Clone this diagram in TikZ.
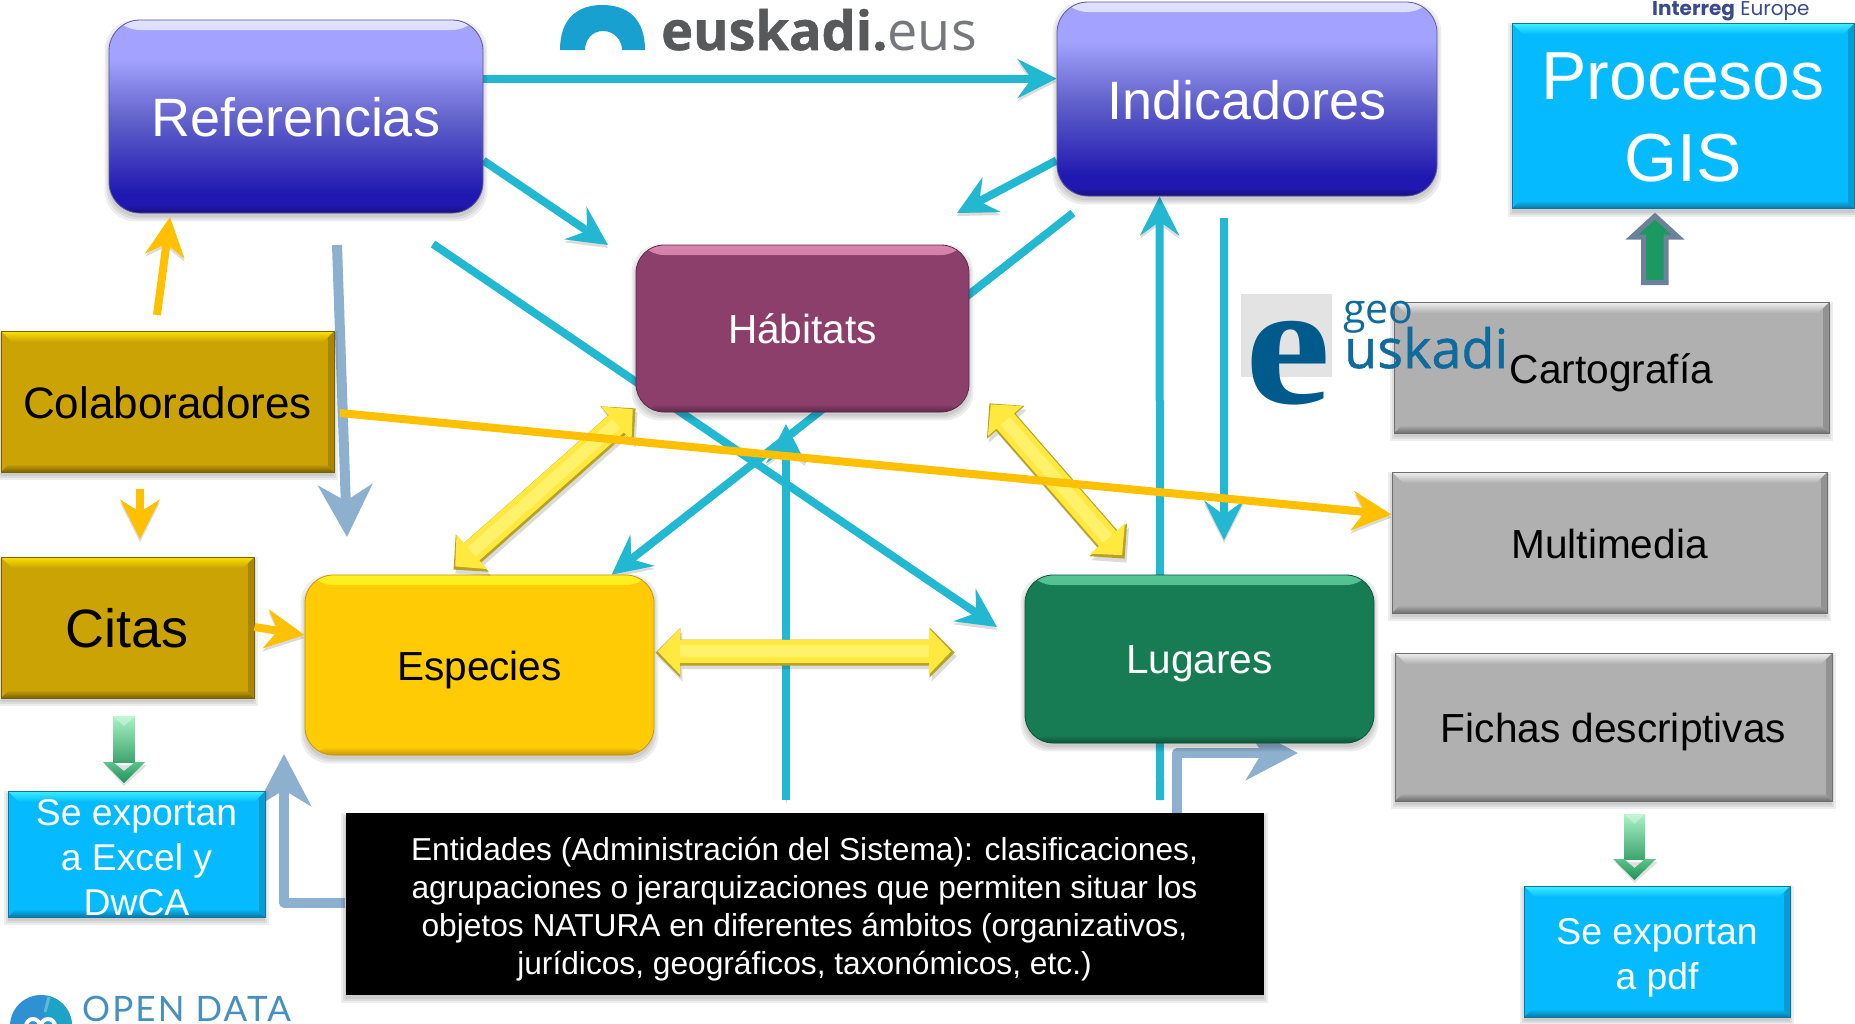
\documentclass[tikz,border=0pt]{standalone}
\usepackage{fontspec}
\setmainfont{Liberation Sans}
\newfontfamily\opensans{Open Sans}
\newfontfamily\lato{Lato}
\newfontfamily\poppins{Poppins}
\newfontfamily\libserif{Liberation Serif}
\usetikzlibrary{arrows.meta,calc}
\pgfdeclarelayer{lines}
\pgfdeclarelayer{shadow}
\pgfdeclarelayer{top}
\pgfsetlayers{lines,shadow,main,top}
\definecolor{cyanl}{HTML}{22B8D2}
\definecolor{steel}{HTML}{8EB0CF}
\definecolor{amber}{HTML}{FFC000}
\definecolor{violetT}{HTML}{A3A3FF}
\definecolor{violetW}{HTML}{E0E0FF}
\definecolor{violetM}{HTML}{6464CC}
\definecolor{violetB}{HTML}{2018B0}
\definecolor{violetD}{HTML}{181078}
\definecolor{plum}{HTML}{8C3F6B}
\definecolor{plumL}{HTML}{D885AE}
\definecolor{plumD}{HTML}{5E284A}
\definecolor{gold}{HTML}{FFCB05}
\definecolor{goldL}{HTML}{FFF020}
\definecolor{goldD}{HTML}{C8960A}
\definecolor{forest}{HTML}{177C54}
\definecolor{forestL}{HTML}{55C495}
\definecolor{forestD}{HTML}{0F5238}
\definecolor{ochre}{HTML}{CBA305}
\definecolor{ochreL}{HTML}{FCE200}
\definecolor{ochreD}{HTML}{7A6200}
\definecolor{sky}{HTML}{06BAFF}
\definecolor{skyL}{HTML}{3CF0FF}
\definecolor{skyD}{HTML}{0A78A0}
\definecolor{grayb}{HTML}{B0B0B0}
\definecolor{grayL}{HTML}{F0F0F0}
\definecolor{grayD}{HTML}{6E6E6E}
\definecolor{ygD}{HTML}{B8A224}
\definecolor{ygM}{HTML}{FFE93F}
\definecolor{ygL}{HTML}{FFF26A}
\definecolor{geoB}{HTML}{005A8C}
\definecolor{geoT}{HTML}{0F6A9E}
\definecolor{geoG}{HTML}{E3E3E3}
\definecolor{eusG}{HTML}{58595B}
\definecolor{eusF}{HTML}{77787B}
\definecolor{eusL}{HTML}{18A0D0}
\definecolor{intB}{HTML}{3B4A8A}
\definecolor{odB}{HTML}{4690C0}
\definecolor{odC}{HTML}{2F90D4}
\definecolor{odT}{HTML}{1CA3C6}
\definecolor{odL}{HTML}{5CBCD2}
\definecolor{upG}{HTML}{1A9A60}
\definecolor{upE}{HTML}{6D819B}
\definecolor{grT}{HTML}{AAF2C6}
\definecolor{grM}{HTML}{3FA56E}
\definecolor{grH}{HTML}{5CC48A}
\definecolor{grB}{HTML}{1F8F58}
\pgfdeclareverticalshading{violetgrad}{100bp}{color(0bp)=(violetB);color(30bp)=(violetB);color(50bp)=(violetM);color(65bp)=(violetT);color(100bp)=(violetT)}
\newcommand{\dn}[2]{\raisebox{-#1pt}[\height][\depth]{#2}}
\newcommand{\lns}[2]{\dn{#1}{\begin{tabular}{@{}c@{}}#2\end{tabular}}}
\newcommand{\lnz}[2]{\raisebox{-#1pt}[0pt][0pt]{\begin{tabular}{@{}c@{}}#2\end{tabular}}}
\tikzset{
  rbev/.style n args={4}{path picture={
    \shade[top color=#1,bottom color=#2] (path picture bounding box.north west) rectangle ([yshift=-10pt]path picture bounding box.north east);
    \shade[top color=#3,bottom color=#4] ([yshift=8pt]path picture bounding box.south west) rectangle (path picture bounding box.south east);
  }},
  sbev/.style n args={3}{path picture={
    \fill[#3!45!#2] (path picture bounding box.north east) -- (path picture bounding box.south east) -- ++(-6pt,6pt) -- ([shift={(-6pt,-6pt)}]path picture bounding box.north east) -- cycle;
    \shade[top color=#1,bottom color=#2] (path picture bounding box.north west) -- (path picture bounding box.north east) -- ([shift={(-11pt,-11pt)}]path picture bounding box.north east) -- ([shift={(11pt,-11pt)}]path picture bounding box.north west) -- cycle;
    \shade[top color=#2,bottom color=#3] (path picture bounding box.south west) -- (path picture bounding box.south east) -- ([shift={(-8pt,8pt)}]path picture bounding box.south east) -- ([shift={(8pt,8pt)}]path picture bounding box.south west) -- cycle;
  }},
  box/.style={inner sep=0pt,align=center,text=black},
  violetbox/.style={box,rounded corners=31pt,shading=violetgrad,draw=violetD!70!white,line width=.8pt,text=white,font=\fontsize{54}{60}\selectfont,rbev={violetW}{violetT}{violetB}{violetD}},
  plumbox/.style={box,rounded corners=28pt,fill=plum,draw=plumD,line width=.8pt,text=white,font=\fontsize{40.6}{48}\selectfont,rbev={plumL}{plum}{plum}{plumD}},
  goldbox/.style={box,rounded corners=28pt,fill=gold,draw=goldD,line width=.8pt,font=\fontsize{40.6}{48}\selectfont,rbev={goldL}{gold}{gold}{goldD}},
  forestbox/.style={box,rounded corners=28pt,fill=forest,draw=forestD,line width=.8pt,text=white,font=\fontsize{40.6}{48}\selectfont,rbev={forestL}{forest}{forest}{forestD}},
  ochrebox/.style={box,fill=ochre,draw=ochreD,line width=.8pt,sbev={ochreL}{ochre}{ochreD}},
  skybox/.style={box,fill=sky,draw=skyD,line width=.8pt,text=white,sbev={skyL}{sky}{skyD}},
  graybox/.style={box,fill=grayb,draw=grayD,line width=.8pt,font=\fontsize{40.6}{48}\selectfont,sbev={grayL}{grayb}{grayD}},
  cast/.style={preaction={draw=black,opacity=.14,transform canvas={yshift=-3pt}}},
  cyanarrow/.style={cast,draw=cyanl,line width=8pt,-{Stealth[length=39pt,width=39pt,inset=14pt]}},
  steelarrow/.style={draw=steel,line width=10pt,line join=round,-{Stealth[length=52pt,width=54pt,inset=16pt]}},
  amberarrow/.style={cast,draw=amber,line width=8pt,-{Stealth[length=39pt,width=39pt,inset=12pt]}},
  logotext/.style={inner sep=0pt,anchor=base west},
}
% yellow bevelled double arrow between two named coordinates
\newcommand{\yshape}[3]{(#3,0) -- (25,{-(#2)}) -- (25,{-(#1)}) -- ({\ylen-25},{-(#1)}) -- ({\ylen-25},{-(#2)}) -- ({\ylen-#3},0) -- ({\ylen-25},#2) -- ({\ylen-25},#1) -- (25,#1) -- (25,#2) -- cycle}
\newcommand{\yellowarrow}[2]{%
  \path let \p1=(#1),\p2=(#2),\n1={atan2(\y2-\y1,\x2-\x1)},\n2={veclen(\x2-\x1,\y2-\y1)} in \pgfextra{\xdef\yang{\n1}\xdef\ylen{\n2}};
  \begin{scope}[shift={(#1)},shift={(2,4)},rotate=\yang]
    \fill[black,opacity=.14] \yshape{12.5}{25}{0};
  \end{scope}
  \begin{scope}[shift={(#1)},rotate=\yang]
    \fill[ygD] \yshape{13}{25}{0};
  \end{scope}
  \begin{scope}[shift={(#1)},shift={(-.6,-1.2)},rotate=\yang]
    \fill[ygM] \yshape{11.5}{23}{3};
    \fill[ygL] (25,-6) rectangle ({\ylen-25},6);
  \end{scope}}
% bevelled green block arrow pointing down: x, top, head base, tip, shaft half, head half
\newcommand{\greendown}[6]{%
  \fill[black,opacity=.12] ({#1-#6+2},{#3+3}) -- ({#1},{#4+3}) -- ({#1+#6+2},{#3+3}) -- cycle;
  \shade[top color=grT,bottom color=grM] ({#1-#5},#2) rectangle ({#1+#5},#3);
  \fill[white,opacity=.3] ({#1-#5},#2) -- ({#1+#5},#2) -- ({#1},{#2+10}) -- cycle;
  \shade[top color=grH,bottom color=grB] ({#1-#6},#3) -- ({#1-#5},#3) -- ({#1},{#3+9}) -- ({#1+#5},#3) -- ({#1+#6},#3) -- ({#1},#4) -- cycle;
}
\begin{document}
\begin{tikzpicture}[x=1pt,y=-1pt]
\useasboundingbox (0,0) rectangle (1855,1023);
\clip (0,0) rectangle (1855,1023);

% boxes
\node[violetbox,minimum width=374pt,minimum height=193pt] (ref) at (296,116.5) {\dn{1}{Referencias}};
\node[violetbox,minimum width=380pt,minimum height=194pt] (ind) at (1247,99) {\dn{1}{Indicadores}};
\node[plumbox,minimum width=333pt,minimum height=167pt] (hab) at (802.5,328.5) {Hábitats};
\node[goldbox,minimum width=349pt,minimum height=180pt] (esp) at (479.5,665) {\dn{5}{Especies}};
\node[forestbox,minimum width=349pt,minimum height=168pt] (lug) at (1199.5,659) {\dn{5}{Lugares}};
\node[ochrebox,minimum width=333pt,minimum height=141pt,font=\fontsize{44}{50}\selectfont] (col) at (167.5,401.5) {\dn{1}{Colaboradores}};
\node[ochrebox,minimum width=253pt,minimum height=141pt,font=\fontsize{54}{60}\selectfont] (cit) at (127.5,627.5) {\dn{1}{Citas}};
\node[skybox,minimum width=257pt,minimum height=126pt,font=\fontsize{37.3}{45}\selectfont] (exc) at (136.5,854) {\lnz{14}{Se exportan\\a Excel y\\DwCA}};
\node[skybox,minimum width=342pt,minimum height=185pt,font=\fontsize{68}{82}\selectfont] (pro) at (1683,116) {\lns{8}{Procesos\\GIS}};
\node[graybox,minimum width=435pt,minimum height=131pt] (car) at (1611.5,367.5) {\dn{5}{Cartografía}};
\node[graybox,minimum width=435pt,minimum height=141pt] (mul) at (1609.5,542.5) {\dn{1}{Multimedia}};
\node[graybox,minimum width=437pt,minimum height=148pt] (fic) at (1613.5,727) {\dn{5}{Fichas descriptivas}};
\node[skybox,minimum width=266pt,minimum height=131pt,font=\fontsize{37.3}{45}\selectfont] (pdf) at (1657,951.5) {\lns{6}{Se exportan\\a pdf}};
\node[box,fill=black,text=white,minimum width=918pt,minimum height=182pt,font=\fontsize{31.7}{38}\selectfont] (blk) at (804.5,904) {\lns{6}{Entidades (Administración del Sistema): clasificaciones,\\agrupaciones o jerarquizaciones que permiten situar los\\objetos NATURA en diferentes ámbitos (organizativos,\\jurídicos, geográficos, taxonómicos, etc.)}};

% box shadows
\begin{pgfonlayer}{shadow}
\foreach \n/\r in {ref/31,ind/31,hab/28,esp/28,lug/28,col/0,cit/0,exc/0,pro/0,car/0,mul/0,fic/0,pdf/0,blk/0}{
  \foreach \k in {0,2,4}{
    \fill[black,opacity=.07,rounded corners=\r pt] ([shift={({-\k*1pt},{\k*1pt-4pt})}]\n.north west) rectangle ([shift={({\k*1pt},{-\k*1pt-4pt})}]\n.south east);
  }
}
\end{pgfonlayer}

% free ends
\coordinate (c1) at (957,213);
\coordinate (c2) at (1073,213);
\coordinate (c3) at (433,244);
\coordinate (c4) at (997,627);
\coordinate (c5) at (786,800);
\coordinate (c6) at (786,424);
\coordinate (c7) at (1160,800);
\coordinate (c8) at (1224,218);
\coordinate (c9) at (1224,540);
\coordinate (c10) at (337,245);
\coordinate (c11) at (347,537);
\coordinate (c12) at (284,754);
\coordinate (c13) at (1298,753);
\coordinate (c14) at (157,315);
\coordinate (c15) at (170,217);
\coordinate (c16) at (140,489);
\coordinate (c17) at (140,539);
\coordinate (c18) at (340,413);
\coordinate (c19) at (608,245);

% connectors behind the boxes
\begin{pgfonlayer}{lines}
\draw[cyanarrow] ([yshift=-59pt]ref.north east) -- ([yshift=-77pt]ind.north west);
\draw[cyanarrow] ([yshift=-141pt]ref.north east) -- (c19);
\draw[cyanarrow] ([yshift=36pt]ind.south west) -- (c1);
\draw[cyanarrow] (c2) -- ([xshift=307pt]esp.north west);
\draw[cyanarrow] (c3) -- (c4);
\draw[cyanarrow] (c5) -- (c6);
\draw[cyanarrow] (c7) -- ([xshift=103pt]ind.south west);
\draw[cyanarrow] (c8) -- (c9);
\draw[steelarrow] (c10) -- (c11);
\draw[steelarrow] ([yshift=-90pt]blk.north west) -| (c12);
\draw[steelarrow] ([xshift=832pt]blk.north west) |- (c13);
\end{pgfonlayer}

% connectors and logos over the boxes
\begin{pgfonlayer}{top}
\yellowarrow{$(esp.north west)+(149,-5)$}{$(hab.south west)+(0,-4)$}
\yellowarrow{$(hab.south east)+(20,-9)$}{$(lug.north west)+(100,-16)$}
\yellowarrow{$(esp.north east)+(1,78)$}{$(lug.north west)+(-70,78)$}
\draw[amberarrow] (c14) -- (c15);
\draw[amberarrow] (c16) -- (c17);
\draw[amberarrow] ([yshift=.5pt]cit.east) -- ([yshift=30pt]esp.west);
\draw[amberarrow] (c18) -- ([yshift=28pt]mul.west);

% block arrows
\greendown{124}{716}{762}{783}{11}{21}
\greendown{1634.5}{814}{859}{880}{10.5}{21.5}
\draw[upE,line width=5pt,fill=upG,miter limit=4] (1655,216) -- (1678,237) -- (1666,237) -- (1666,282.5) -- (1643.5,282.5) -- (1643.5,237) -- (1632,237) -- cycle;

% logos
\fill[eusL] (560,50) .. controls (560,18) and (578,5) .. (602,5) .. controls (627,5) and (645,18) .. (645,50) -- (622,50) .. controls (622,40) and (614,31) .. (603,31) .. controls (592,31) and (585,40) .. (585,50) -- cycle;
\node[logotext,text=eusG,font=\fontsize{54}{60}\selectfont\opensans] (eus) at (661,50) {{\bfseries\addfontfeature{FakeBold=1}euskadi.}{\color{eusF}eus}};

\node[inner sep=0pt,fill=geoG,minimum width=91pt,minimum height=83pt] (geobox) at (1286.5,335.5) {};
\node[logotext,text=geoB,font=\fontsize{175}{180}\selectfont\libserif\bfseries] (geoe) at (1245,403) {\scalebox{1.1}[1]{e}};
\node[logotext,text=geoT,font=\fontsize{41}{45}\selectfont\opensans] (geog) at (1343,323) {geo};
\node[logotext,text=geoT,font=\fontsize{54}{60}\selectfont\opensans] (geou) at (1344,368) {\addfontfeature{FakeBold=1}uskadi};

\node[logotext,text=intB,font=\fontsize{20}{24}\selectfont\poppins] (int) at (1652,15) {\textbf{Interreg} Europe};

\node[circle,fill=odC,inner sep=0pt,minimum size=62pt] (odc) at (41,1026) {};
\begin{scope}
  \clip (41,1026) circle[radius=31pt];
  \fill[odT] (47,990) -- (80,990) -- (80,1030) -- (44,1030) -- cycle;
  \draw[odL,line width=3pt] (49,997) -- (45,1012);
  \draw[white,line width=4pt] (33,1026) circle[radius=7pt] (48,1026) circle[radius=7pt];
\end{scope}
\node[logotext,text=odB,font=\fontsize{35}{36}\selectfont\lato] (odt) at (82,1021) {\addfontfeature{LetterSpace=6}OPEN DATA};
\end{pgfonlayer}
\end{tikzpicture}
\end{document}
